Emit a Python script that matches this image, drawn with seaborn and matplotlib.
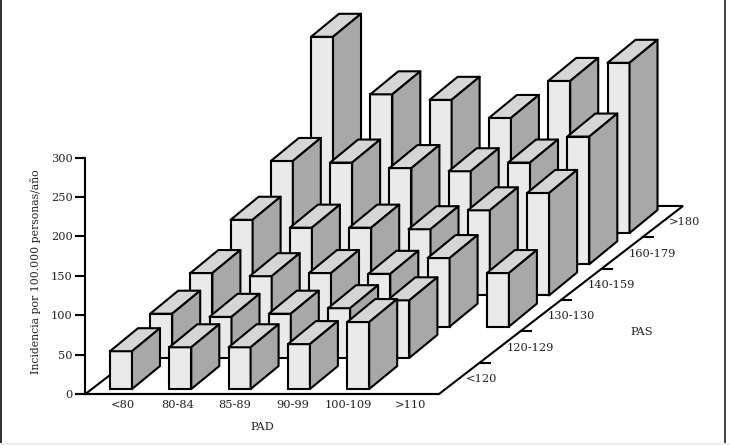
import numpy as np
import pandas as pd
import matplotlib
matplotlib.use('Agg')
import matplotlib.pyplot as plt
import matplotlib.transforms as mtrans
from matplotlib.patches import Polygon, Rectangle
import seaborn as sns

# datos, una lista por fila de PAS
pad_labels = ['<80', '80-84', '85-89', '90-99', '100-109', '>110']
pas_labels = ['<120', '120-129', '130-130', '140-159', '160-179', '>180']
pas_lt120 = [48, 53, 53, 57, 85, np.nan]
pas_120 = [56, 52, 56, 63, 73, np.nan]
pas_130 = [68, 64, 68, 67, 87, 68]
pas_140 = [96, 86, 86, 84, 108, 130]
pas_160 = [131, 129, 122, 118, 129, 162]
pas_gt180 = [249, 176, 169, 146, 193, 216]
rows = [pas_lt120, pas_120, pas_130, pas_140, pas_160, pas_gt180]

# escala de la proyeccion oblicua (en unidades de los ejes)
step_x, step_y = 0.678, 39.6
depth_x, depth_y = 0.472, 29.2
base_y = 6.3
bar_width = 0.371
fs = 8.2

sns.set_theme(style='white')
plt.rcParams['font.family'] = ['DejaVu Serif']
text_color = '#222222'

fig = plt.figure(figsize=(7.3, 4.45), dpi=100)
ax = fig.add_axes([0, 0, 1, 1])
ax.patch.set_alpha(0)

# suelo
ax.add_patch(Polygon([(-0.6, 0), (5.363, 0), (9.477, 238.6), (3.516, 238.6)],
                     closed=True, facecolor='white', edgecolor='black', lw=1.5, zorder=1))

# barras de atras hacia adelante
for r in range(5, -1, -1):
    df = pd.DataFrame({'pad': pad_labels, 'valor': rows[r]})
    n_before = len(ax.patches)
    sns.barplot(data=df, x='pad', y='valor', order=pad_labels, color='#eaeaea', saturation=1,
                width=bar_width, errorbar=None, ax=ax)
    shift = mtrans.Affine2D().translate(r * step_x, base_y + r * step_y)
    zo = 10 + (5 - r)
    for bar in list(ax.patches[n_before:]):
        h = bar.get_height()
        if not h > 0:
            bar.remove()
            continue
        x0 = bar.get_x()
        x1 = x0 + bar.get_width()
        bar.set_edgecolor('black')
        bar.set_linewidth(1.5)
        bar.set_facecolor('#eaeaea')
        bar.set_zorder(zo)
        bar.set_transform(shift + ax.transData)
        top = [(x0, h), (x1, h), (x1 + depth_x, h + depth_y), (x0 + depth_x, h + depth_y)]
        side = [(x1, 0), (x1 + depth_x, depth_y), (x1 + depth_x, h + depth_y), (x1, h)]
        for pts, col in [(top, '#d6d6d6'), (side, '#a8a8a8')]:
            ax.add_patch(Polygon(pts, closed=True, facecolor=col, edgecolor='black', lw=1.5,
                                 joinstyle='round', zorder=zo, transform=shift + ax.transData))

# ejes
ax.set_xlim(-121 / 59.3, (730 - 121) / 59.3)
ax.set_ylim(-51 / 0.788, 394 / 0.788)
sns.despine(ax=ax, top=True, right=True)
ax.spines['left'].set_position(('data', -0.6))
ax.spines['left'].set_bounds(0, 300)
ax.spines['bottom'].set_position(('data', 0))
ax.spines['bottom'].set_bounds(-0.76, 5.363)
for s in ['left', 'bottom']:
    ax.spines[s].set_linewidth(1.5)
    ax.spines[s].set_color('black')
    ax.spines[s].set_zorder(2)

ax.set_yticks([0, 50, 100, 150, 200, 250, 300])
ax.tick_params(axis='y', left=True, length=7.5, width=1.5, color='black', pad=1.5,
               labelsize=fs, labelcolor=text_color)
ax.set_xticks([(px - 121) / 59.3 for px in [123, 178, 235, 293, 348, 410]])
ax.set_xticklabels(pad_labels)
ax.tick_params(axis='x', bottom=False, length=0, pad=4, labelsize=fs, labelcolor=text_color)
ax.set_xlabel('')
ax.set_ylabel('')

ax.text((262 - 121) / 59.3, -(427 - 394) / 0.788, 'PAD', ha='center', va='center',
        fontsize=fs, color=text_color)
ax.text((36 - 121) / 59.3, (394 - 272) / 0.788, 'Incidencia por 100.000 personas/año', rotation=90,
        ha='center', va='center', fontsize=7.85, color=text_color)
ax.text((630 - 121) / 59.3, (394 - 332) / 0.788, 'PAS', ha='left', va='center',
        fontsize=fs, color=text_color)

# marcas y etiquetas del eje PAS sobre el borde derecho del suelo
edge_dx, edge_dy = (9.477 - 5.363) / 6, 238.6 / 6
for i in range(1, 6):
    ex, ey = 5.363 + i * edge_dx, i * edge_dy
    ax.plot([ex, ex + 0.19], [ey, ey], color='black', lw=1.5, solid_capstyle='butt', zorder=2)
for i, lab in enumerate(pas_labels):
    ex, ey = 5.363 + (i + 0.5) * edge_dx, (i + 0.5) * edge_dy
    ax.text(ex + 0.11, ey - 1, lab, ha='left', va='center', fontsize=fs, color=text_color)

# marco de la imagen
fig.add_artist(Rectangle((0, 0), 1, 2 / 445, transform=fig.transFigure, facecolor='#efefef', edgecolor='none'))
fig.add_artist(Rectangle((0, 2 / 445), 2 / 730, 443 / 445, transform=fig.transFigure,
                         facecolor='#333333', edgecolor='none'))
fig.add_artist(Rectangle((723.5 / 730, 2 / 445), 2.5 / 730, 443 / 445, transform=fig.transFigure,
                         facecolor='#444444', edgecolor='none'))

fig.savefig('out.png', dpi=100)
